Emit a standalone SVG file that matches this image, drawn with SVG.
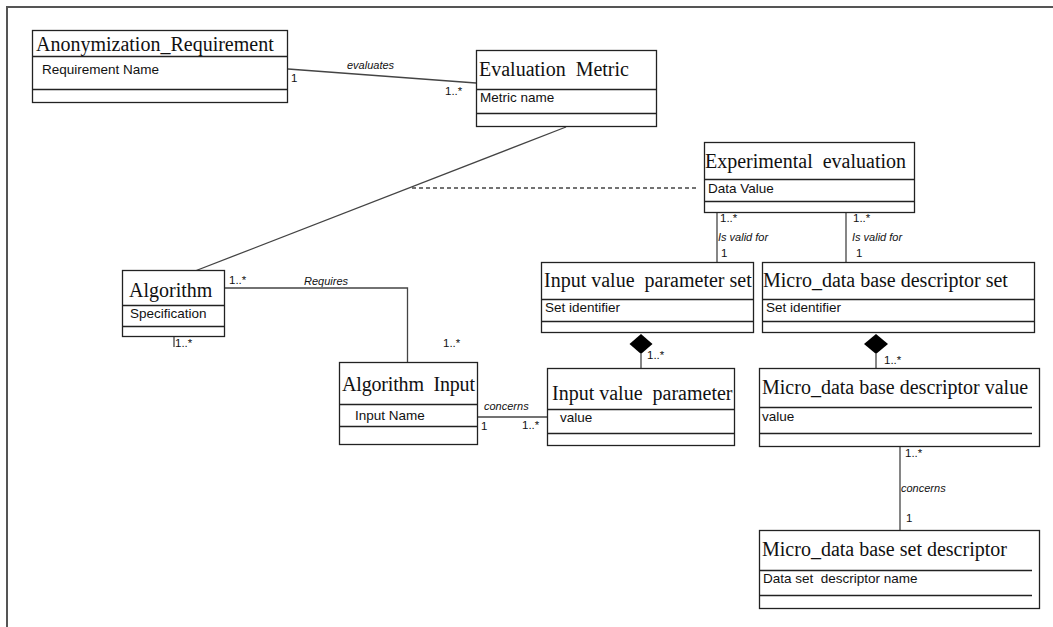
<svg xmlns="http://www.w3.org/2000/svg" width="1053" height="627" viewBox="0 0 1053 627">
<style>
.box{fill:#fff;stroke:#222;stroke-width:1.3}
.div{stroke:#222;stroke-width:1.3}
.t{font-family:"Liberation Serif",serif;font-size:20px;fill:#111}
.a{font-family:"Liberation Sans",sans-serif;font-size:13.5px;fill:#111}
.m{font-family:"Liberation Sans",sans-serif;font-size:11.5px;fill:#111}
.i{font-family:"Liberation Sans",sans-serif;font-size:11px;font-style:italic;fill:#111}
.ln{stroke:#444;stroke-width:1.3;fill:none}
</style>
<rect width="1053" height="627" fill="#fff"/>
<g id="frame" stroke="#555" stroke-width="2" fill="none">
<path d="M1053 7 H7 V627"/>
</g>
<g id="connectors">
<line class="ln" x1="288" y1="69" x2="476" y2="83"/>
<line class="ln" x1="566" y1="127" x2="195" y2="271"/>
<line class="ln" x1="412" y1="188" x2="697" y2="188" stroke-dasharray="4,3"/>
<line class="ln" x1="717" y1="213" x2="717" y2="262"/>
<line class="ln" x1="846" y1="213" x2="846" y2="262"/>
<path class="ln" d="M224 288 H407.5 V362"/>
<line class="ln" x1="477" y1="417" x2="547" y2="417"/>
<line class="ln" x1="641" y1="354" x2="641" y2="368"/>
<polygon points="641,334 652.5,344 641,354 629.5,344" fill="#000"/>
<line class="ln" x1="876" y1="354" x2="876" y2="368"/>
<polygon points="876,334 888,344 876,354 864,344" fill="#000"/>
<line class="ln" x1="900" y1="447" x2="900" y2="530"/>
<line class="ln" x1="174" y1="336" x2="174" y2="347"/>
<text class="i" x="347" y="69">evaluates</text>
<text class="m" x="291" y="82">1</text>
<text class="m" x="445" y="95">1..*</text>
<text class="m" x="720" y="222">1..*</text>
<text class="i" x="718" y="241">Is valid for</text>
<text class="m" x="721" y="257">1</text>
<text class="m" x="853" y="222">1..*</text>
<text class="i" x="852" y="241">Is valid for</text>
<text class="m" x="856" y="257">1</text>
<text class="m" x="229" y="284">1..*</text>
<text class="i" x="304" y="285">Requires</text>
<text class="m" x="443" y="347">1..*</text>
<text class="m" x="175" y="347">1..*</text>
<text class="i" x="484" y="410">concerns</text>
<text class="m" x="481" y="430">1</text>
<text class="m" x="522" y="429">1..*</text>
<text class="m" x="647" y="359">1..*</text>
<text class="m" x="884" y="364">1..*</text>
<text class="m" x="905" y="457">1..*</text>
<text class="i" x="901" y="492">concerns</text>
<text class="m" x="906" y="522">1</text>
</g>
<g id="anonymization_requirement">
<rect class="box" x="32.5" y="30.5" width="255" height="72"/>
<line class="div" x1="32.5" y1="56.5" x2="287.5" y2="56.5"/>
<line class="div" x1="32.5" y1="89.5" x2="287.5" y2="89.5"/>
<text class="t" x="36" y="51">Anonymization_Requirement</text>
<text class="a" x="42" y="74">Requirement Name</text>
</g>
<g id="evaluation_metric">
<rect class="box" x="476.5" y="50.5" width="180" height="76"/>
<line class="div" x1="476.5" y1="89.5" x2="656.5" y2="89.5"/>
<line class="div" x1="476.5" y1="113.5" x2="656.5" y2="113.5"/>
<text class="t" x="479" y="76" xml:space="preserve">Evaluation  Metric</text>
<text class="a" x="480" y="102">Metric name</text>
</g>
<g id="experimental_evaluation">
<rect class="box" x="704.5" y="142.5" width="210" height="70"/>
<line class="div" x1="704.5" y1="179.5" x2="914.5" y2="179.5"/>
<line class="div" x1="704.5" y1="201.5" x2="914.5" y2="201.5"/>
<text class="t" x="705" y="168" xml:space="preserve">Experimental  evaluation</text>
<text class="a" x="708" y="193">Data Value</text>
</g>
<g id="algorithm">
<rect class="box" x="122.5" y="270.5" width="102" height="66"/>
<line class="div" x1="122.5" y1="305.5" x2="224.5" y2="305.5"/>
<line class="div" x1="122.5" y1="326.5" x2="224.5" y2="326.5"/>
<text class="t" x="129" y="297">Algorithm</text>
<text class="a" x="130" y="318">Specification</text>
</g>
<g id="input_value_parameter_set">
<rect class="box" x="541.5" y="262.5" width="212" height="70"/>
<line class="div" x1="541.5" y1="299.5" x2="753.5" y2="299.5"/>
<line class="div" x1="541.5" y1="321.5" x2="753.5" y2="321.5"/>
<text class="t" x="544" y="287" xml:space="preserve">Input value  parameter set</text>
<text class="a" x="545" y="312">Set identifier</text>
</g>
<g id="micro_data_descriptor_set">
<rect class="box" x="762.5" y="262.5" width="272" height="70"/>
<line class="div" x1="762.5" y1="299.5" x2="1034.5" y2="299.5"/>
<line class="div" x1="762.5" y1="321.5" x2="1034.5" y2="321.5"/>
<text class="t" x="763" y="287">Micro_data base descriptor set</text>
<text class="a" x="766" y="312">Set identifier</text>
</g>
<g id="algorithm_input">
<rect class="box" x="339.5" y="362.5" width="138" height="82"/>
<line class="div" x1="339.5" y1="404.5" x2="478" y2="404.5"/>
<line class="div" x1="339.5" y1="426.5" x2="477.5" y2="426.5"/>
<text class="t" x="342" y="391" textLength="133" lengthAdjust="spacing" xml:space="preserve">Algorithm  Input</text>
<text class="a" x="355" y="420">Input Name</text>
</g>
<g id="input_value_parameter">
<rect class="box" x="547.5" y="368.5" width="187" height="77"/>
<line class="div" x1="547.5" y1="409.5" x2="734.5" y2="409.5"/>
<line class="div" x1="547.5" y1="433.5" x2="734.5" y2="433.5"/>
<text class="t" x="552" y="400" xml:space="preserve">Input value  parameter</text>
<text class="a" x="560" y="422">value</text>
</g>
<g id="micro_data_descriptor_value">
<rect class="box" x="759.5" y="368.5" width="280" height="78"/>
<line class="div" x1="759.5" y1="407.5" x2="1032" y2="407.5"/>
<line class="div" x1="759.5" y1="433.5" x2="1032" y2="433.5"/>
<text class="t" x="762" y="394">Micro_data base descriptor value</text>
<text class="a" x="762" y="421">value</text>
</g>
<g id="micro_data_set_descriptor">
<rect class="box" x="759.5" y="530.5" width="280" height="78"/>
<line class="div" x1="759.5" y1="570.5" x2="1032" y2="570.5"/>
<line class="div" x1="759.5" y1="595.5" x2="1032" y2="595.5"/>
<text class="t" x="762" y="556">Micro_data base set descriptor</text>
<text class="a" x="763" y="583" xml:space="preserve">Data set  descriptor name</text>
</g>
</svg>
